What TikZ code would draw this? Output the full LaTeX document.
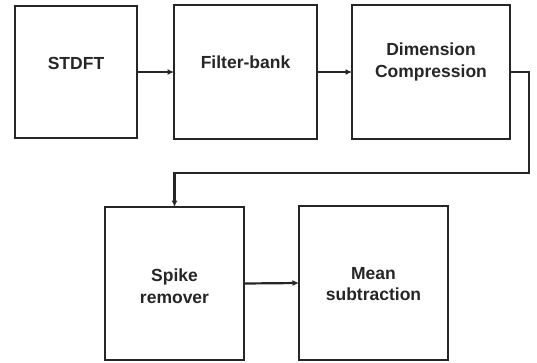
\documentclass[tikz,border=0pt]{standalone}
\usepackage{fontspec}
\setmainfont{Liberation Sans}
\usetikzlibrary{arrows.meta}
\begin{document}
\begin{tikzpicture}[x=1pt,y=-1pt,
  blockbox/.style={draw=black!85,line width=2.6pt,inner sep=0pt,outer sep=0pt,fill=white},
  caption/.style={font=\bfseries\fontsize{17.5}{21.5}\selectfont,align=center,text=black!85},
  link/.style={draw=black!85,line width=2.2pt,-{Latex[length=6.5pt,width=6pt]}}]
  \useasboundingbox[fill=white] (0,0) rectangle (537,362);
  % processing blocks
  \node[blockbox,minimum width=122pt,minimum height=132pt] (stdft) at (76,72) {};
  \node[blockbox,minimum width=143pt,minimum height=134pt] (fbank) at (245.5,72) {};
  \node[blockbox,minimum width=158pt,minimum height=134pt] (dimc) at (431,72) {};
  \node[blockbox,minimum width=139pt,minimum height=153pt] (spike) at (174.5,283.5) {};
  \node[blockbox,minimum width=149pt,minimum height=154pt] (mean) at (373.5,283) {};
  % block captions
  \node[caption] (tstdft) at (76,63) {STDFT};
  \node[caption] (tfbank) at (245.5,62) {Filter-bank};
  \node[caption] (tdimc) at (431,62) {Dimension\\Compression};
  \node[caption] (tspike) at (174.5,286) {Spike\\remover};
  \node[caption] (tmean) at (373.5,284) {Mean\\subtraction};
  % signal flow
  \coordinate (bend) at (529,173);
  \draw[link] (stdft.east) -- (fbank.west);
  \draw[link] (fbank.east) -- (dimc.west);
  \draw[link] (dimc.east) -| (bend) -| (spike.north);
  \draw[link] (spike.east) -- (mean.west);
\end{tikzpicture}
\end{document}
